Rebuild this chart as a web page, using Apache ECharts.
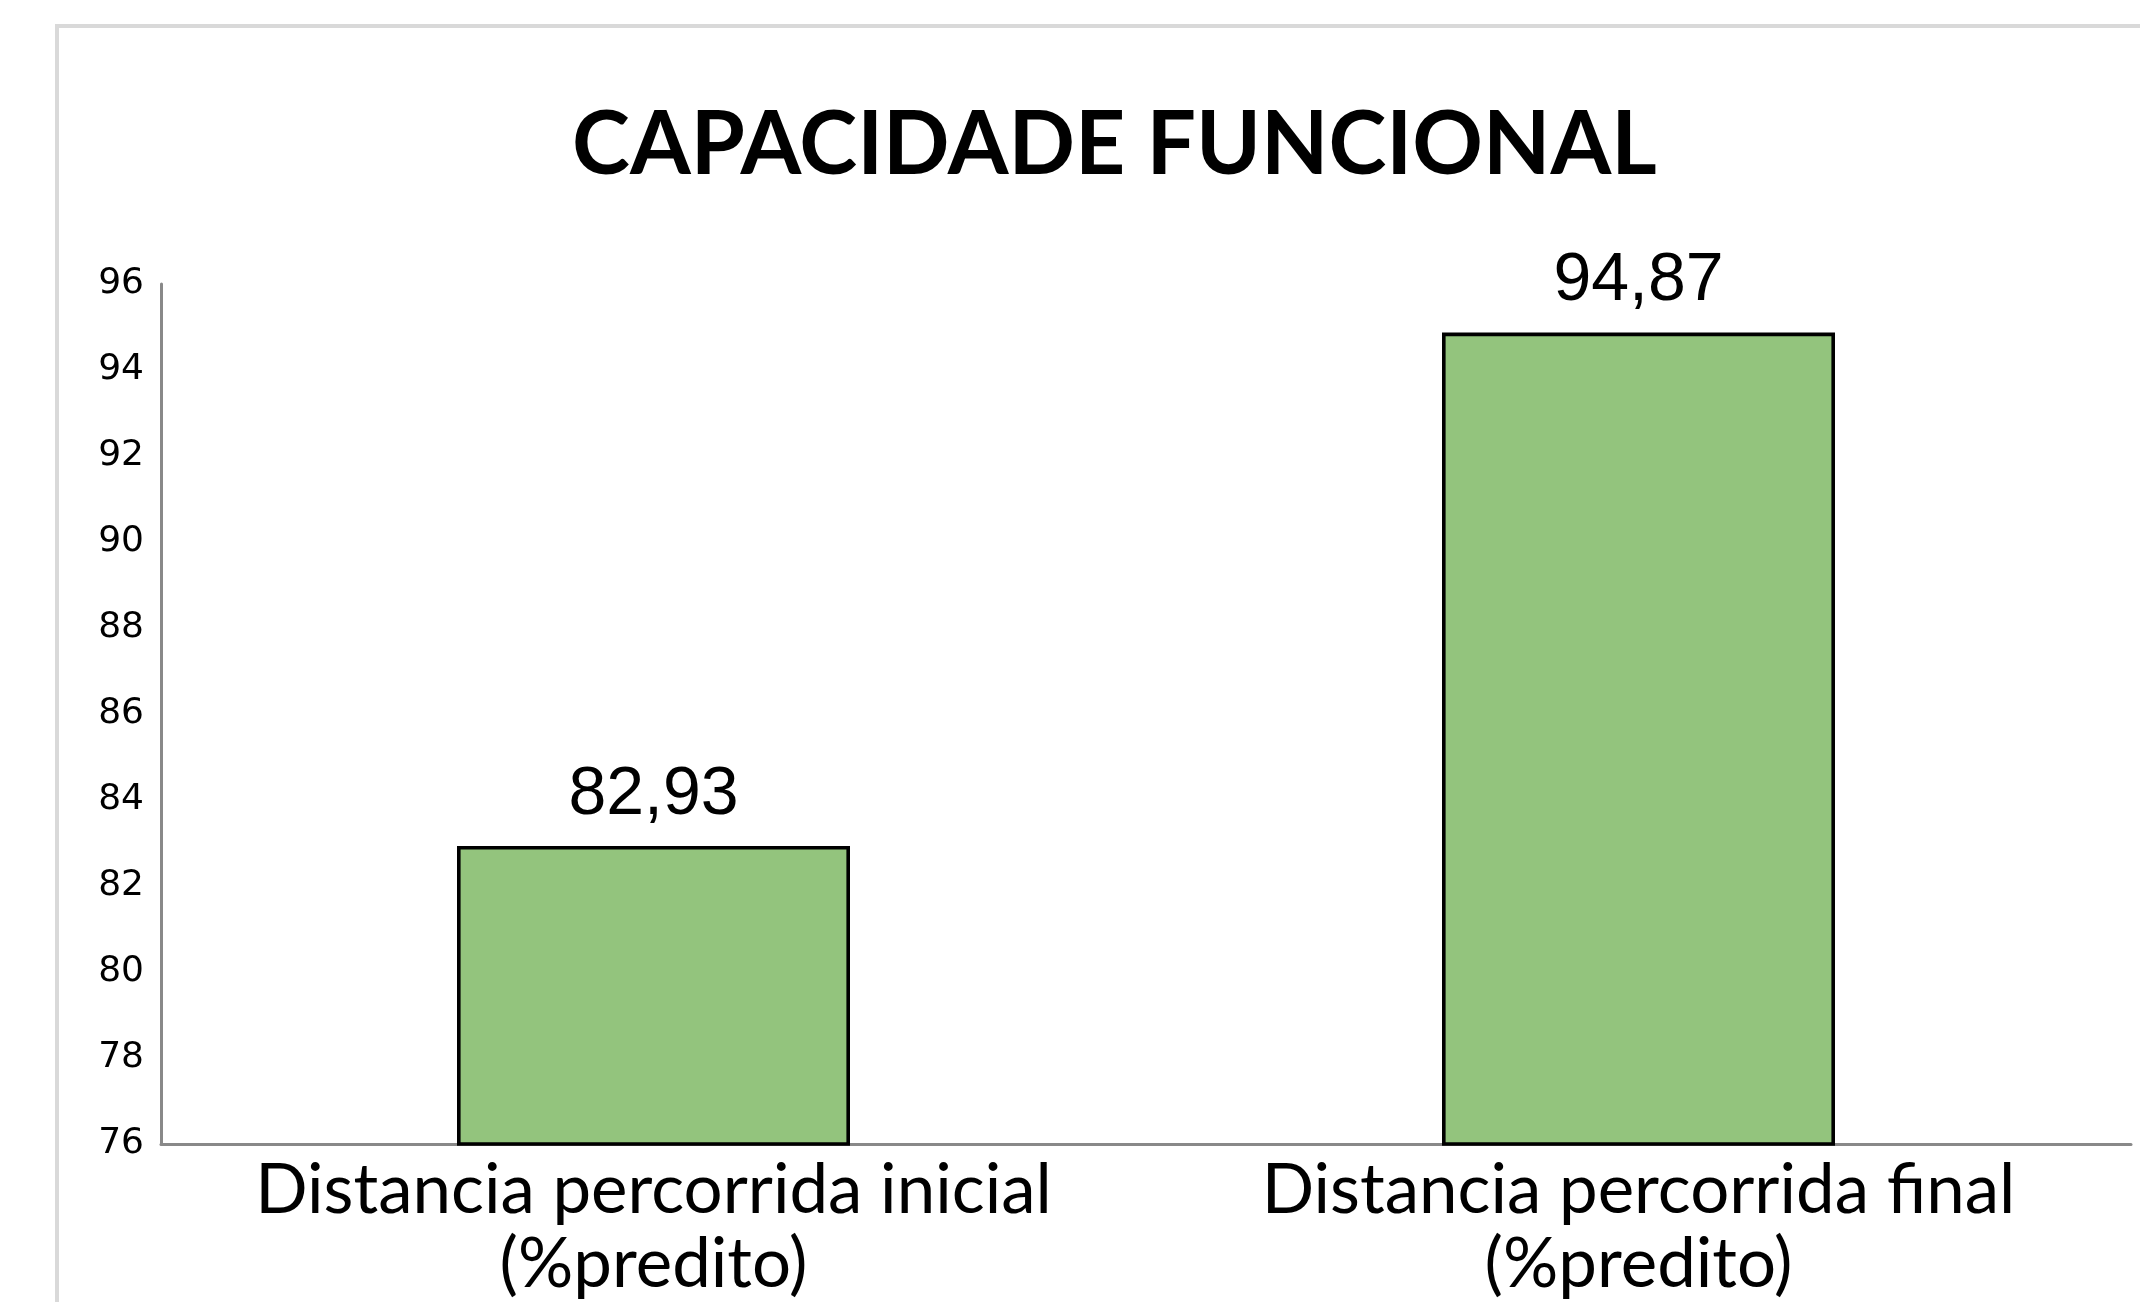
<!DOCTYPE html>
<html>
<head>
<meta charset="utf-8">
<script src="https://cdn.jsdelivr.net/npm/echarts@6/dist/echarts.min.js"></script>
<style>
  html, body { margin: 0; padding: 0; background: #ffffff; }
  #chart { width: 2140px; height: 1302px; }
</style>
</head>
<body>
<div id="chart"></div>
<script>
const titleText = 'CAPACIDADE FUNCIONAL';
const categories = ['Distancia percorrida inicial\n(%predito)', 'Distancia percorrida final\n(%predito)'];
const values = [82.93, 94.87];
const valueLabels = ['82,93', '94,87'];
const yMin = 76;
const yMax = 96;
const yStep = 2;

const chart = echarts.init(document.getElementById('chart'), null, { renderer: 'canvas' });
chart.setOption({
  backgroundColor: '#ffffff',
  animation: false,
  graphic: [{
    type: 'rect',
    shape: { x: 57, y: 26, width: 2300, height: 1500 },
    style: { fill: 'none', stroke: '#d9d9d9', lineWidth: 4 },
    silent: true, z: -1
  }],
  title: {
    text: titleText,
    left: 567,
    top: 97,
    textStyle: { fontFamily: 'Lato', fontWeight: 'bold', fontSize: 87.5, color: '#000000' }
  },
  grid: { left: 161, right: 9, top: 284, bottom: 157, containLabel: false },
  xAxis: {
    type: 'category',
    data: categories,
    axisLine: { show: true, lineStyle: { color: '#898989', width: 3 } },
    axisTick: { show: false },
    axisLabel: {
      interval: 0,
      margin: 10,
      fontFamily: 'Lato',
      fontSize: 69,
      lineHeight: 74,
      color: '#000000'
    },
    splitLine: { show: false }
  },
  yAxis: {
    type: 'value',
    min: yMin,
    max: yMax,
    interval: yStep,
    axisLine: { show: true, lineStyle: { color: '#898989', width: 3 } },
    axisTick: { show: false },
    splitLine: { show: false },
    axisLabel: {
      margin: 17,
      fontFamily: 'DejaVu Sans',
      fontSize: 36,
      color: '#000000'
    }
  },
  series: [{
    type: 'bar',
    data: values,
    barWidth: 393,
    itemStyle: { color: '#93c47d', borderColor: '#000000', borderWidth: 3.6 },
    label: {
      show: true,
      position: 'top',
      distance: 17,
      fontFamily: 'Liberation Sans',
      fontSize: 68,
      color: '#000000',
      formatter: function (p) { return valueLabels[p.dataIndex]; }
    }
  }]
});
</script>
</body>
</html>
